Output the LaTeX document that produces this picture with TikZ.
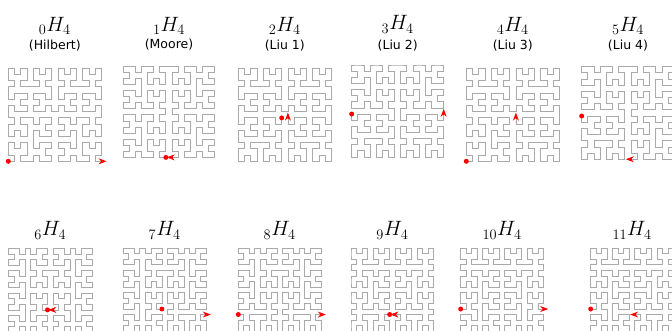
\documentclass[tikz,border=0pt]{standalone}
\usepackage{fontspec}
\setsansfont{DejaVu Sans}
\usetikzlibrary{arrows.meta}

\def\hsep{}
\def\pts{}
\def\lastx{0}\def\lasty{0}
\def\addpt#1#2{%
  \edef\tmpx{\the\numexpr#1\relax}\edef\tmpy{\the\numexpr#2\relax}%
  \ifx\hsep\empty \xdef\firstx{\tmpx}\xdef\firsty{\tmpy}\fi
  \xdef\prevx{\lastx}\xdef\prevy{\lasty}%
  \xdef\lastx{\tmpx}\xdef\lasty{\tmpy}%
  \xdef\pts{\pts\hsep(\tmpx,\tmpy)}%
  \gdef\hsep{--}}
% Hilbert curve: origin x0 y0, vector X (xi,xj), vector Y (yi,yj), order n
\def\hil#1#2#3#4#5#6#7{%
  \ifnum#7=0\relax
    \addpt{#1+(#3+#5)/2}{#2+(#4+#6)/2}%
  \else
    \hilstep{#1}{#2}{#3}{#4}{#5}{#6}{#7}%
  \fi}
\def\hilstep#1#2#3#4#5#6#7{%
  \begingroup
  \edef\hN{\the\numexpr#7-1\relax}%
  \edef\hA{\the\numexpr(#3)/2\relax}%
  \edef\hB{\the\numexpr(#4)/2\relax}%
  \edef\hC{\the\numexpr(#5)/2\relax}%
  \edef\hD{\the\numexpr(#6)/2\relax}%
  \edef\hX{%
    \noexpand\hil{#1}{#2}{\hC}{\hD}{\hA}{\hB}{\hN}%
    \noexpand\hil{\the\numexpr#1+\hA\relax}{\the\numexpr#2+\hB\relax}{\hA}{\hB}{\hC}{\hD}{\hN}%
    \noexpand\hil{\the\numexpr#1+\hA+\hC\relax}{\the\numexpr#2+\hB+\hD\relax}{\hA}{\hB}{\hC}{\hD}{\hN}%
    \noexpand\hil{\the\numexpr#1+\hA+#5\relax}{\the\numexpr#2+\hB+#6\relax}{\the\numexpr0-\hC\relax}{\the\numexpr0-\hD\relax}{\the\numexpr0-\hA\relax}{\the\numexpr0-\hB\relax}{\hN}}%
  \expandafter\endgroup\hX}
% order-2 Hilbert block in a local frame (O,U,V): O=(a,b), X=(p,q), Y=(r,s)
\def\sub#1#2#3#4#5#6{%
  \edef\subcall{\noexpand\hil
   {\the\numexpr\qOx+(#1)*(\qUx)+(#2)*(\qVx)\relax}%
   {\the\numexpr\qOy+(#1)*(\qUy)+(#2)*(\qVy)\relax}%
   {\the\numexpr(#3)*(\qUx)+(#4)*(\qVx)\relax}%
   {\the\numexpr(#3)*(\qUy)+(#4)*(\qVy)\relax}%
   {\the\numexpr(#5)*(\qUx)+(#6)*(\qVx)\relax}%
   {\the\numexpr(#5)*(\qUy)+(#6)*(\qVy)\relax}{2}}%
  \subcall}
% Liu-4 type order-3 quadrant: corner O, unit vectors U, V, f(orward)/r(eversed)
\def\liuq#1#2#3#4#5#6#7{%
  \def\qOx{#1}\def\qOy{#2}\def\qUx{#3}\def\qUy{#4}\def\qVx{#5}\def\qVy{#6}%
  \if#7f%
    \sub{0}{8}{0}{-8}{8}{0}\sub{8}{8}{-8}{0}{0}{8}\sub{8}{16}{8}{0}{0}{-8}\sub{8}{8}{8}{0}{0}{-8}%
  \else
    \sub{8}{0}{8}{0}{0}{8}\sub{8}{8}{8}{0}{0}{8}\sub{8}{16}{-8}{0}{0}{-8}\sub{8}{8}{0}{-8}{-8}{0}%
  \fi}

% #1 L, #2 T, #3 cell size, #4 generator calls
\newcommand\curvepanel[4]{%
  \gdef\pts{}\gdef\hsep{}\gdef\lastx{0}\gdef\lasty{0}%
  #4%
  \pgfmathsetmacro\hs{#3/2}%
  \pgfmathsetmacro\shx{#1-#3/2}\pgfmathsetmacro\shy{#2+15.5*#3}%
  \begin{scope}[shift={(\shx,\shy)}, x=\hs pt, y=\hs pt]
    \draw[curve] \pts;
    \fill[red] (\firstx,\firsty) circle[radius=2.5pt];
    \edef\ddx{\the\numexpr\lastx-\prevx\relax}\edef\ddy{\the\numexpr\lasty-\prevy\relax}%
    \draw[arr] (\lastx,\lasty) -- ({\lastx+0.85*(\ddx)},{\lasty+0.85*(\ddy)});
  \end{scope}}

\begin{document}
\begin{tikzpicture}[x=1pt,y=-1pt,
  curve/.style={draw={rgb,255:red,170;green,170;blue,170}, line width=0.8pt, line join=miter},
  arr/.style={red, line width=0.8pt, -{Stealth[length=8pt,width=6pt]}},
  mtitle/.style={anchor=base, font=\fontsize{20}{24}\selectfont},
  ntitle/.style={anchor=base, font=\sffamily\fontsize{12.5}{15}\selectfont}]
\useasboundingbox (0,0) rectangle (672,331);

% ---------- row 1 ----------
\curvepanel{8.3}{68.3}{6.2}{\hil{0}{0}{0}{32}{32}{0}{4}}
\curvepanel{123.3}{66.2}{6.08}{\hil{16}{0}{-16}{0}{0}{16}{3}\hil{16}{16}{-16}{0}{0}{16}{3}\hil{16}{32}{16}{0}{0}{-16}{3}\hil{16}{16}{16}{0}{0}{-16}{3}}
\curvepanel{238.3}{68.3}{6.2}{\hil{16}{16}{0}{-16}{-16}{0}{3}\hil{0}{16}{0}{16}{16}{0}{3}\hil{16}{16}{0}{16}{16}{0}{3}\hil{32}{16}{0}{-16}{-16}{0}{3}}
\curvepanel{351.7}{65}{6.13}{\hil{0}{16}{0}{-16}{16}{0}{3}\hil{16}{16}{-16}{0}{0}{16}{3}\hil{16}{32}{16}{0}{0}{-16}{3}\hil{16}{16}{0}{-16}{16}{0}{3}}
\curvepanel{466.3}{68.3}{6.2}{\hil{0}{0}{16}{0}{0}{16}{3}\hil{0}{16}{0}{16}{16}{0}{3}\hil{16}{16}{0}{16}{16}{0}{3}\hil{32}{16}{0}{-16}{-16}{0}{3}}
\curvepanel{581.7}{66.7}{6.17}{\hil{0}{16}{0}{-16}{16}{0}{3}\hil{16}{16}{-16}{0}{0}{16}{3}\hil{16}{32}{16}{0}{0}{-16}{3}\hil{16}{16}{16}{0}{0}{-16}{3}}

\node[mtitle] (m0) at (54.8,31.7) {${}_{0}H_{4}$};
\node[ntitle] (n0) at (54.8,49.3) {(Hilbert)};
\node[mtitle] (m1) at (169,31.2) {${}_{1}H_{4}$};
\node[ntitle] (n1) at (169,49) {(Moore)};
\node[mtitle] (m2) at (284.8,31.7) {${}_{2}H_{4}$};
\node[ntitle] (n2) at (284.8,49.3) {(Liu 1)};
\node[mtitle] (m3) at (397.7,30) {${}_{3}H_{4}$};
\node[ntitle] (n3) at (397.7,49.3) {(Liu 2)};
\node[mtitle] (m4) at (512.8,31.7) {${}_{4}H_{4}$};
\node[ntitle] (n4) at (512.8,49.3) {(Liu 3)};
\node[mtitle] (m5) at (628,31.7) {${}_{5}H_{4}$};
\node[ntitle] (n5) at (628,49.3) {(Liu 4)};

% ---------- row 2 ----------
% 6: start (7,4) end (8,4)
\curvepanel{8.3}{248.3}{5.6}{\liuq{16}{16}{-1}{0}{0}{-1}{f}\liuq{16}{16}{-1}{0}{0}{1}{r}\liuq{16}{16}{1}{0}{0}{1}{f}\liuq{16}{16}{1}{0}{0}{-1}{r}}
% 7: start (7,4) end (15,3)
\curvepanel{123.3}{248.3}{5.52}{\liuq{16}{16}{-1}{0}{0}{-1}{f}\liuq{16}{16}{-1}{0}{0}{1}{r}\liuq{16}{16}{1}{0}{0}{1}{f}\liuq{32}{16}{0}{-1}{-1}{0}{f}}
% 8: start (0,3) end (15,3)
\curvepanel{238.3}{248.3}{5.52}{\liuq{0}{16}{0}{-1}{1}{0}{r}\liuq{16}{16}{-1}{0}{0}{1}{r}\liuq{16}{16}{1}{0}{0}{1}{f}\liuq{32}{16}{0}{-1}{-1}{0}{f}}
% 9: start (7,3) end (8,3)
\curvepanel{351}{248.3}{5.52}{\liuq{16}{16}{0}{-1}{-1}{0}{r}\liuq{16}{16}{0}{1}{-1}{0}{f}\liuq{16}{16}{0}{1}{1}{0}{r}\liuq{16}{16}{0}{-1}{1}{0}{f}}
% 10: start (0,4) end (15,4)
\curvepanel{460.7}{248.3}{5.52}{\liuq{0}{16}{1}{0}{0}{-1}{f}\liuq{16}{16}{0}{1}{-1}{0}{f}\liuq{16}{16}{0}{1}{1}{0}{r}\liuq{32}{16}{-1}{0}{0}{-1}{r}}
% 11: start (0,4) end (8,3)
\curvepanel{590.7}{248.3}{5.52}{\liuq{0}{16}{1}{0}{0}{-1}{f}\liuq{16}{16}{0}{1}{-1}{0}{f}\liuq{16}{16}{0}{1}{1}{0}{r}\liuq{16}{16}{0}{-1}{1}{0}{f}}

\node[mtitle] (m6) at (50.3,236) {${}_{6}H_{4}$};
\node[mtitle] (m7) at (164.7,236) {${}_{7}H_{4}$};
\node[mtitle] (m8) at (279.7,236) {${}_{8}H_{4}$};
\node[mtitle] (m9) at (392.4,236) {${}_{9}H_{4}$};
\node[mtitle] (m10) at (502.1,236) {${}_{10}H_{4}$};
\node[mtitle] (m11) at (632.1,236) {${}_{11}H_{4}$};
\end{tikzpicture}
\end{document}
